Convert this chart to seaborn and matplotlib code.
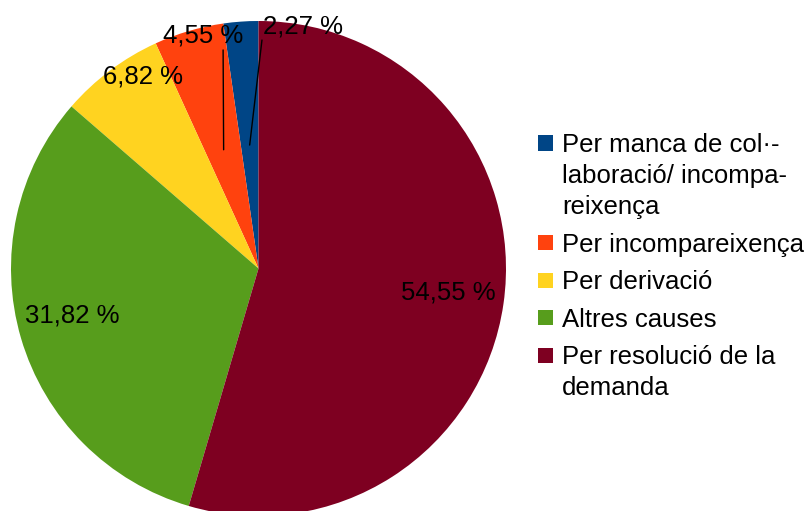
import numpy as np
import matplotlib
matplotlib.use("Agg")
import matplotlib.pyplot as plt
from matplotlib.patches import Rectangle
import seaborn as sns

# Data: cases closed by reason (counts out of 44)
categories = [
    "Per manca de col·-\nlaboració/ incompa-\nreixença",
    "Per incompareixença",
    "Per derivació",
    "Altres causes",
    "Per resolució de la\ndemanda",
]
counts = [1, 2, 3, 14, 24]
colors = ["#004586", "#ff420e", "#ffd320", "#579d1c", "#7e0021"]

sns.set_style("white")
plt.rcParams["font.family"] = ["Liberation Sans", "DejaVu Sans"]

W, H = 808, 511
fig = plt.figure(figsize=(W / 100, H / 100), dpi=100)
cx, cy, r = 258.5, 268.5, 247.5
ax = fig.add_axes([(cx - r) / W, (H - cy - r) / H, 2 * r / W, 2 * r / H])

wedges, _ = ax.pie(counts, colors=colors, startangle=90, counterclock=True,
                   radius=1.0, wedgeprops=dict(linewidth=0))
ax.set_xlim(-1, 1)
ax.set_ylim(-1, 1)
ax.axis("off")

total = sum(counts)
pct = [f"{c / total * 100:.2f} %".replace(".", ",") for c in counts]

# label anchor points (pie units), leader lines for the small slices
label_pos = [(0.180, 0.976), (-0.224, 0.943), (-0.467, 0.774),
             (-0.754, -0.188), (0.768, -0.095)]
leader_end = {0: (0.014, 0.923), 1: (-0.143, 0.883)}

for i, (w, txt) in enumerate(zip(wedges, pct)):
    ax.text(*label_pos[i], txt, ha="center", va="center", fontsize=18.5,
            color="black")
    if i in leader_end:
        mid = np.deg2rad((w.theta1 + w.theta2) / 2)
        x0, y0 = 0.5 * np.cos(mid), 0.5 * np.sin(mid)
        x1, y1 = leader_end[i]
        ax.plot([x0, x1], [y0, y1], color="black", linewidth=1)

# legend drawn by hand so the key sits on the first line of each label
fs = 18.5
line_h = 31.0
gap = 6.5
box = 15.0
y = 143.0  # centre of first text line, pixels from top
for label, col in zip(categories, colors):
    fig.add_artist(Rectangle((538 / W, 1 - (y + box / 2) / H), box / W, box / H,
                             transform=fig.transFigure, facecolor=col,
                             edgecolor="none"))
    lines = label.split("\n")
    for k, ln in enumerate(lines):
        yy = y + k * line_h + 9.4
        fig.text(562 / W, 1 - yy / H, ln, fontsize=fs, ha="left",
                 va="baseline", color="black")
    y += len(lines) * line_h + gap

fig.savefig("out.png", dpi=100)
